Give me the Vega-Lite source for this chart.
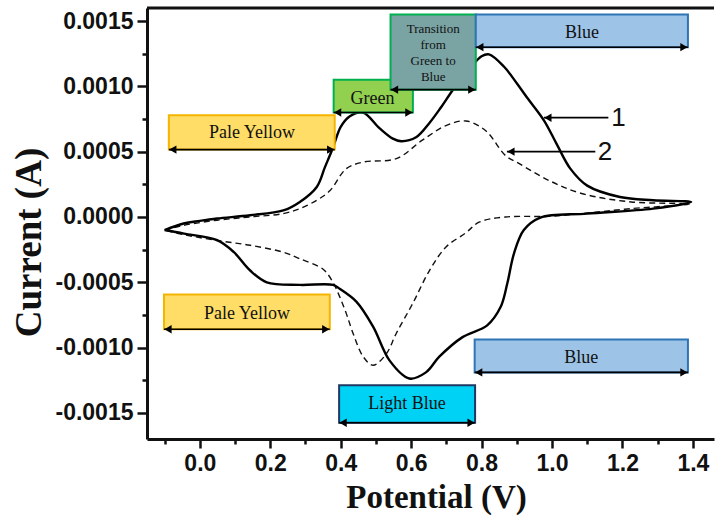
{
  "$schema": "https://vega.github.io/schema/vega-lite/v6.json",
  "width": 567,
  "height": 431,
  "autosize": {"type": "none"},
  "padding": {"left": 147, "top": 8, "right": 1, "bottom": 78},
  "background": "white",
  "config": {"view": {"stroke": null}},
  "datasets": {
    "curves": [
      {"s":"1","o":1,"v":-0.1,"i":-0.0001},
      {"s":"1","o":2,"v":-0.046,"i":-0.00005},
      {"s":"1","o":3,"v":0.0,"i":-0.00003},
      {"s":"1","o":4,"v":0.049,"i":-0.000012},
      {"s":"1","o":5,"v":0.143,"i":0.000013},
      {"s":"1","o":6,"v":0.237,"i":0.00005},
      {"s":"1","o":7,"v":0.284,"i":0.000115},
      {"s":"1","o":8,"v":0.332,"i":0.00023},
      {"s":"1","o":9,"v":0.355,"i":0.00038},
      {"s":"1","o":10,"v":0.378,"i":0.00053},
      {"s":"1","o":11,"v":0.4,"i":0.00069},
      {"s":"1","o":12,"v":0.425,"i":0.00077},
      {"s":"1","o":13,"v":0.463,"i":0.0008},
      {"s":"1","o":14,"v":0.51,"i":0.00068},
      {"s":"1","o":15,"v":0.548,"i":0.0006},
      {"s":"1","o":16,"v":0.572,"i":0.00058},
      {"s":"1","o":17,"v":0.614,"i":0.00061},
      {"s":"1","o":18,"v":0.652,"i":0.00072},
      {"s":"1","o":19,"v":0.685,"i":0.00084},
      {"s":"1","o":20,"v":0.718,"i":0.00097},
      {"s":"1","o":21,"v":0.765,"i":0.00113},
      {"s":"1","o":22,"v":0.8,"i":0.00123},
      {"s":"1","o":23,"v":0.821,"i":0.001245},
      {"s":"1","o":24,"v":0.864,"i":0.00115},
      {"s":"1","o":25,"v":0.901,"i":0.00102},
      {"s":"1","o":26,"v":0.929,"i":0.000915},
      {"s":"1","o":27,"v":0.977,"i":0.00074},
      {"s":"1","o":28,"v":1.013,"i":0.00056},
      {"s":"1","o":29,"v":1.052,"i":0.00037},
      {"s":"1","o":30,"v":1.1,"i":0.00024},
      {"s":"1","o":31,"v":1.193,"i":0.000153},
      {"s":"1","o":32,"v":1.287,"i":0.000128},
      {"s":"1","o":33,"v":1.395,"i":0.000115},
      {"s":"1","o":34,"v":1.287,"i":0.000064},
      {"s":"1","o":35,"v":1.1,"i":0.000026},
      {"s":"1","o":36,"v":0.967,"i":-0.000005},
      {"s":"1","o":37,"v":0.92,"i":-0.0001},
      {"s":"1","o":38,"v":0.892,"i":-0.00028},
      {"s":"1","o":39,"v":0.873,"i":-0.00051},
      {"s":"1","o":40,"v":0.854,"i":-0.00069},
      {"s":"1","o":41,"v":0.816,"i":-0.00083},
      {"s":"1","o":42,"v":0.746,"i":-0.00092},
      {"s":"1","o":43,"v":0.68,"i":-0.00107},
      {"s":"1","o":44,"v":0.642,"i":-0.00119},
      {"s":"1","o":45,"v":0.595,"i":-0.001237},
      {"s":"1","o":46,"v":0.539,"i":-0.0011},
      {"s":"1","o":47,"v":0.492,"i":-0.00084},
      {"s":"1","o":48,"v":0.445,"i":-0.00065},
      {"s":"1","o":49,"v":0.397,"i":-0.00055},
      {"s":"1","o":50,"v":0.378,"i":-0.00052},
      {"s":"1","o":51,"v":0.284,"i":-0.00052},
      {"s":"1","o":52,"v":0.19,"i":-0.0005},
      {"s":"1","o":53,"v":0.143,"i":-0.00041},
      {"s":"1","o":54,"v":0.096,"i":-0.000268},
      {"s":"1","o":55,"v":0.049,"i":-0.000178},
      {"s":"1","o":56,"v":-0.045,"i":-0.000127},
      {"s":"1","o":57,"v":-0.1,"i":-0.0001},
      {"s":"2","o":1,"v":-0.1,"i":-0.0001},
      {"s":"2","o":2,"v":-0.046,"i":-0.000064},
      {"s":"2","o":3,"v":0.049,"i":-0.000025},
      {"s":"2","o":4,"v":0.143,"i":0.0},
      {"s":"2","o":5,"v":0.237,"i":0.000026},
      {"s":"2","o":6,"v":0.284,"i":0.000064},
      {"s":"2","o":7,"v":0.332,"i":0.000128},
      {"s":"2","o":8,"v":0.369,"i":0.0002},
      {"s":"2","o":9,"v":0.416,"i":0.00037},
      {"s":"2","o":10,"v":0.464,"i":0.00042},
      {"s":"2","o":11,"v":0.558,"i":0.000447},
      {"s":"2","o":12,"v":0.633,"i":0.00059},
      {"s":"2","o":13,"v":0.699,"i":0.0007},
      {"s":"2","o":14,"v":0.756,"i":0.000735},
      {"s":"2","o":15,"v":0.812,"i":0.00066},
      {"s":"2","o":16,"v":0.868,"i":0.00047},
      {"s":"2","o":17,"v":0.906,"i":0.00041},
      {"s":"2","o":18,"v":0.991,"i":0.00028},
      {"s":"2","o":19,"v":1.084,"i":0.00018},
      {"s":"2","o":20,"v":1.225,"i":0.000115},
      {"s":"2","o":21,"v":1.39,"i":0.0001},
      {"s":"2","o":22,"v":1.225,"i":0.000064},
      {"s":"2","o":23,"v":1.084,"i":0.000026},
      {"s":"2","o":24,"v":0.99,"i":0.000005},
      {"s":"2","o":25,"v":0.868,"i":0.0},
      {"s":"2","o":26,"v":0.793,"i":-0.00004},
      {"s":"2","o":27,"v":0.756,"i":-0.00012},
      {"s":"2","o":28,"v":0.699,"i":-0.00023},
      {"s":"2","o":29,"v":0.652,"i":-0.00041},
      {"s":"2","o":30,"v":0.605,"i":-0.00066},
      {"s":"2","o":31,"v":0.558,"i":-0.00089},
      {"s":"2","o":32,"v":0.529,"i":-0.00105},
      {"s":"2","o":33,"v":0.492,"i":-0.001135},
      {"s":"2","o":34,"v":0.464,"i":-0.00107},
      {"s":"2","o":35,"v":0.435,"i":-0.00089},
      {"s":"2","o":36,"v":0.416,"i":-0.00074},
      {"s":"2","o":37,"v":0.397,"i":-0.00061},
      {"s":"2","o":38,"v":0.378,"i":-0.0005},
      {"s":"2","o":39,"v":0.35,"i":-0.0004},
      {"s":"2","o":40,"v":0.284,"i":-0.00032},
      {"s":"2","o":41,"v":0.237,"i":-0.00027},
      {"s":"2","o":42,"v":0.143,"i":-0.000217},
      {"s":"2","o":43,"v":0.049,"i":-0.00018},
      {"s":"2","o":44,"v":-0.046,"i":-0.000135},
      {"s":"2","o":45,"v":-0.1,"i":-0.0001}
    ],
    "boxes": [
      {"kind":"pale","x":-0.088,"x2":0.383,"y":0.000778,"y2":0.000516,"label":"Pale Yellow","tx":0.148,"ty":0.00064},
      {"kind":"green","x":0.38,"x2":0.605,"y":0.00105,"y2":0.0008,"label":"Green","tx":0.49,"ty":0.000906},
      {"kind":"trans","x":0.5415,"x2":0.7836,"y":0.00155,"y2":0.000975,"label":"Transition\nfrom\nGreen to\nBlue","tx":0.6626,"ty":0.00144},
      {"kind":"blue","x":0.7836,"x2":1.386,"y":0.00155,"y2":0.0013,"label":"Blue","tx":1.085,"ty":0.00141},
      {"kind":"pale","x":-0.1017,"x2":0.369,"y":-0.000594,"y2":-0.00086,"label":"Pale Yellow","tx":0.134,"ty":-0.00074},
      {"kind":"light","x":0.3955,"x2":0.7816,"y":-0.001288,"y2":-0.001576,"label":"Light Blue","tx":0.5886,"ty":-0.00143},
      {"kind":"blue","x":0.7804,"x2":1.386,"y":-0.000938,"y2":-0.00119,"label":"Blue","tx":1.083,"ty":-0.001076}
    ],
    "pointers": [
      {"x":0.977,"x2":1.16,"y":0.00076,"label":"1","tx":1.168},
      {"x":0.872,"x2":1.123,"y":0.0005,"label":"2","tx":1.13}
    ]
  },
  "encoding": {
    "x": {"type": "quantitative", "scale": {"domain": [-0.15, 1.46], "nice": false, "zero": false},
      "axis": {
        "title": "Potential (V)",
        "values": [-0.1,0,0.1,0.2,0.3,0.4,0.5,0.6,0.7,0.8,0.9,1.0,1.1,1.2,1.3,1.4],
        "labelExpr": "abs(round(datum.value*10)) % 2 == 1 ? '' : format(datum.value, '.1f')",
        "labelFont": "Liberation Sans", "labelFontWeight": "bold", "labelFontSize": 23, "labelColor": "#111",
        "labelPadding": 4, "labelOverlap": false,
        "tickSize": {"condition": {"test": "abs(round(datum.value*10)) % 2 == 1", "value": 5}, "value": 9},
        "tickWidth": 2.5, "tickColor": "#111",
        "domainWidth": 3, "domainColor": "#111", "grid": false,
        "titleFont": "Liberation Serif", "titleFontWeight": "bold", "titleFontSize": 33, "titleColor": "#111",
        "titlePadding": 6, "titleX": 289
      }},
    "y": {"type": "quantitative", "scale": {"domain": [-0.0017, 0.0016], "nice": false, "zero": false},
      "axis": {
        "title": "Current (A)",
        "values": [-0.0015,-0.00125,-0.001,-0.00075,-0.0005,-0.00025,0,0.00025,0.0005,0.00075,0.001,0.00125,0.0015],
        "labelExpr": "abs(round(datum.value*4000)) % 2 == 1 ? '' : replace(format(datum.value, '.4f'), '−', '-')",
        "labelFont": "Liberation Sans", "labelFontWeight": "bold", "labelFontSize": 23, "labelColor": "#111",
        "labelPadding": 4, "labelOverlap": false,
        "tickSize": {"condition": {"test": "abs(round(datum.value*4000)) % 2 == 1", "value": 5}, "value": 10},
        "tickWidth": 2.5, "tickColor": "#111",
        "domainWidth": 3, "domainColor": "#111", "grid": false,
        "titleFont": "Liberation Serif", "titleFontWeight": "bold", "titleFontSize": 37, "titleColor": "#111",
        "titlePadding": 6, "titleY": 234
      }}
  },
  "layer": [
    {
      "data": {"name": "curves"},
      "transform": [{"filter": "datum.s == '2'"}],
      "mark": {"type": "line", "color": "#111", "strokeWidth": 1.4, "strokeDash": [6, 4], "interpolate": "catmull-rom"},
      "encoding": {
        "x": {"field": "v"},
        "y": {"field": "i"},
        "order": {"field": "o", "type": "quantitative"}
      }
    },
    {
      "data": {"name": "curves"},
      "transform": [{"filter": "datum.s == '1'"}],
      "mark": {"type": "line", "color": "#000", "strokeWidth": 2.4, "interpolate": "catmull-rom"},
      "encoding": {
        "x": {"field": "v"},
        "y": {"field": "i"},
        "order": {"field": "o", "type": "quantitative"}
      }
    },
    {
      "data": {"values": [{"top": 0.0016}]},
      "mark": {"type": "rule", "color": "#111", "strokeWidth": 3},
      "encoding": {"x": null, "y": {"field": "top"}}
    },
    {
      "data": {"name": "boxes"},
      "mark": {"type": "rect", "strokeWidth": 2},
      "encoding": {
        "x": {"field": "x"},
        "x2": {"field": "x2"},
        "y": {"field": "y"},
        "y2": {"field": "y2"},
        "fill": {"field": "kind", "type": "nominal", "legend": null,
          "scale": {"domain": ["pale","green","trans","blue","light"], "range": ["#FFDD66","#92D050","#7AA3A3","#9DC3E6","#00D2F5"]}},
        "stroke": {"field": "kind", "type": "nominal", "legend": null,
          "scale": {"domain": ["pale","green","trans","blue","light"], "range": ["#F5B400","#00B050","#00B050","#2E75B6","#1F3864"]}}
      }
    },
    {
      "data": {"name": "boxes"},
      "mark": {"type": "rule", "color": "#000", "strokeWidth": 1.6},
      "encoding": {
        "x": {"field": "x"},
        "x2": {"field": "x2"},
        "y": {"field": "y2"}
      }
    },
    {
      "data": {"name": "boxes"},
      "mark": {"type": "point", "shape": "triangle-left", "filled": true, "color": "#000", "size": 70, "opacity": 1, "xOffset": 4},
      "encoding": {
        "x": {"field": "x"},
        "y": {"field": "y2"}
      }
    },
    {
      "data": {"name": "boxes"},
      "mark": {"type": "point", "shape": "triangle-right", "filled": true, "color": "#000", "size": 70, "opacity": 1, "xOffset": -4},
      "encoding": {
        "x": {"field": "x2"},
        "y": {"field": "y2"}
      }
    },
    {
      "data": {"name": "boxes"},
      "transform": [{"filter": "datum.kind != 'trans'"}],
      "mark": {"type": "text", "font": "Liberation Serif", "fontSize": 18, "color": "#111", "align": "center", "baseline": "middle"},
      "encoding": {
        "x": {"field": "tx"},
        "y": {"field": "ty"},
        "text": {"field": "label"}
      }
    },
    {
      "data": {"name": "boxes"},
      "transform": [{"filter": "datum.kind == 'trans'"}],
      "mark": {"type": "text", "font": "Liberation Serif", "fontSize": 13, "lineHeight": 16, "lineBreak": "\n", "color": "#111", "align": "center", "baseline": "middle"},
      "encoding": {
        "x": {"field": "tx"},
        "y": {"field": "ty"},
        "text": {"field": "label"}
      }
    },
    {
      "data": {"name": "pointers"},
      "mark": {"type": "rule", "color": "#000", "strokeWidth": 1.8},
      "encoding": {
        "x": {"field": "x"},
        "x2": {"field": "x2"},
        "y": {"field": "y"}
      }
    },
    {
      "data": {"name": "pointers"},
      "mark": {"type": "point", "shape": "triangle-left", "filled": true, "color": "#000", "size": 70, "opacity": 1, "xOffset": 4},
      "encoding": {
        "x": {"field": "x"},
        "y": {"field": "y"}
      }
    },
    {
      "data": {"name": "pointers"},
      "mark": {"type": "text", "font": "Liberation Sans", "fontSize": 26, "color": "#111", "align": "left", "baseline": "middle"},
      "encoding": {
        "x": {"field": "tx"},
        "y": {"field": "y"},
        "text": {"field": "label"}
      }
    }
  ]
}
